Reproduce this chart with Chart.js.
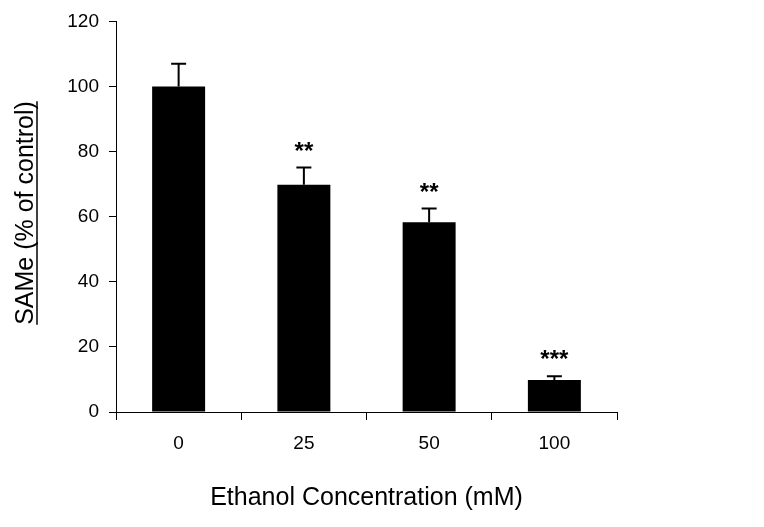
<!DOCTYPE html>
<html>
<head>
<meta charset="utf-8">
<script src="https://cdn.jsdelivr.net/npm/chart.js@4"></script>
<style>
  html, body { margin: 0; padding: 0; background: #fff; }
  #wrap { width: 764px; height: 527px; }
</style>
</head>
<body>
<div id="wrap"><canvas id="myChart" width="764" height="527"></canvas></div>
<script>
// SAMe vs ethanol
const categories = ['0', '25', '50', '100'];
const sameVals = [100, 69.8, 58.3, 9.8];
const sameErr = [7, 5.3, 4.2, 1.2];
const stars = ['', '**', '**', '***'];
const yTicks = [0, 20, 40, 60, 80, 100, 120];

const yTitle = 'SAMe (% of control)';
const xTitle = 'Ethanol Concentration (mM)';
const fnt = '"Liberation Sans", Arial, sans-serif';

// error bars + stars on top of bars
const extras = {
  id: 'extras',
  afterDatasetsDraw(chart) {
    const ctx = chart.ctx;
    const meta = chart.getDatasetMeta(0);
    const y = chart.scales.y;
    ctx.save();
    ctx.strokeStyle = '#000';
    ctx.lineWidth = 2;
    meta.data.forEach((bar, i) => {
      const top = y.getPixelForValue(sameVals[i]);
      const cap = y.getPixelForValue(sameVals[i] + sameErr[i]);
      ctx.beginPath();
      ctx.moveTo(bar.x, top);
      ctx.lineTo(bar.x, cap);
      ctx.moveTo(bar.x - 7.5, cap);
      ctx.lineTo(bar.x + 7.5, cap);
      ctx.stroke();
      if (stars[i]) {
        ctx.fillStyle = '#000';
        ctx.font = 'bold 24px ' + fnt;
        ctx.textAlign = 'center';
        ctx.textBaseline = 'alphabetic';
        ctx.fillText(stars[i], bar.x, cap - 9);
      }
    });
    ctx.restore();
  },
  afterDraw(chart) {
    const ctx = chart.ctx;
    ctx.save();
    ctx.fillStyle = '#000';
    ctx.strokeStyle = '#000';
    // y title, rotated and underlined
    ctx.translate(33, 213);
    ctx.rotate(-Math.PI / 2);
    ctx.font = '25px ' + fnt;
    ctx.textAlign = 'center';
    ctx.textBaseline = 'alphabetic';
    ctx.fillText(yTitle, 0, 0);
    const w = ctx.measureText(yTitle).width;
    ctx.lineWidth = 1.5;
    ctx.beginPath();
    ctx.moveTo(-w / 2, 4);
    ctx.lineTo(w / 2, 4);
    ctx.stroke();
    ctx.restore();
    // x title
    ctx.save();
    ctx.fillStyle = '#000';
    ctx.font = '25px ' + fnt;
    ctx.textAlign = 'center';
    ctx.textBaseline = 'middle';
    const xs = chart.scales.x;
    ctx.fillText(xTitle, (xs.left + xs.right) / 2, 498);
    ctx.restore();
  }
};

new Chart(document.getElementById('myChart'), {
  type: 'bar',
  data: {
    labels: categories,
    datasets: [{
      data: sameVals,
      backgroundColor: '#000',
      borderWidth: 0,
      categoryPercentage: 1,
      barPercentage: 0.423
    }]
  },
  options: {
    responsive: false,
    animation: false,
    layout: { padding: { top: 19, right: 147, left: 0, bottom: 0 } },
    plugins: {
      legend: { display: false },
      tooltip: { enabled: false }
    },
    scales: {
      x: {
        afterFit: (s) => { s.height = 115; },
        border: { color: '#000', width: 1 },
        grid: { offset: true, drawOnChartArea: false, color: '#000', tickLength: 8 },
        ticks: { color: '#000', padding: 12, font: { size: 19, family: fnt } }
      },
      y: {
        min: 0,
        max: 120,
        afterFit: (s) => { s.width = 116; },
        afterBuildTicks: (s) => { s.ticks = yTicks.map(v => ({ value: v })); },
        border: { color: '#000', width: 1 },
        grid: { drawOnChartArea: false, color: '#000', tickLength: 7 },
        ticks: { color: '#000', padding: 10, font: { size: 19, family: fnt } }
      }
    }
  },
  plugins: [extras]
});
</script>
</body>
</html>
